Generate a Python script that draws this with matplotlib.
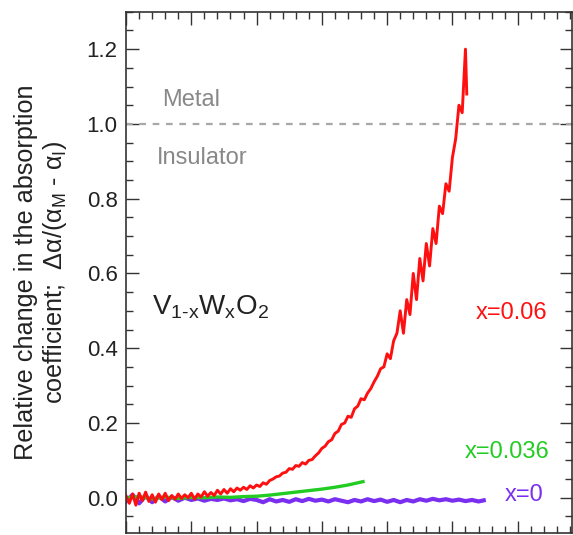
import matplotlib
matplotlib.use("Agg")
import matplotlib.pyplot as plt
from matplotlib.ticker import MultipleLocator, NullFormatter

plt.rcParams['font.family'] = ['Liberation Sans', 'DejaVu Sans']
plt.rcParams['mathtext.fontset'] = 'custom'
plt.rcParams['mathtext.rm'] = 'Liberation Sans'
plt.rcParams['mathtext.it'] = 'Liberation Sans'

# x = 0.06 (red), step 0.05 in arbitrary x units
red_x = [i * 0.05 for i in range(105)] + [5.22]
red_y = [0.005, -0.015, 0.01, -0.02, 0.012, -0.008, 0.015, -0.01, 0.008, -0.012,
         0.01, -0.005, 0.012, -0.008, 0.006, -0.004, 0.01, -0.002, 0.008, 0.0,
         0.012, -0.004, 0.01, 0.002, 0.016, 0.004, 0.014, 0.006, 0.02, 0.01,
         0.022, 0.012, 0.024, 0.016, 0.026, 0.02, 0.028, 0.022, 0.032, 0.026,
         0.034, 0.03, 0.04, 0.036, 0.046, 0.05, 0.056, 0.058, 0.066, 0.068,
         0.078, 0.076, 0.086, 0.084, 0.094, 0.09, 0.1, 0.102, 0.112, 0.12,
         0.132, 0.138, 0.15, 0.155, 0.172, 0.178, 0.196, 0.2, 0.218, 0.215,
         0.238, 0.245, 0.265, 0.262, 0.28, 0.292, 0.31, 0.325, 0.345, 0.35,
         0.385, 0.372, 0.42, 0.44, 0.5, 0.44, 0.53, 0.49, 0.6, 0.53,
         0.64, 0.58, 0.68, 0.62, 0.72, 0.68, 0.78, 0.76, 0.84, 0.82,
         0.91, 0.96, 1.05, 1.03, 1.2, 1.08]

# x = 0.036 (green)
green_x = [0.0, 0.2, 0.4, 0.6, 0.8, 1.0, 1.2, 1.4, 1.6, 1.8, 2.0, 2.2, 2.4,
           2.6, 2.8, 3.0, 3.2, 3.4, 3.63]
green_y = [0.0, 0.003, -0.003, 0.002, -0.002, 0.001, 0.0, 0.002, 0.001, 0.003,
           0.004, 0.007, 0.011, 0.015, 0.019, 0.023, 0.028, 0.034, 0.043]

# x = 0 (purple)
purple_x = [i * 0.1 for i in range(55)] + [5.48]
purple_y = [-0.01, 0.008, -0.015, 0.005, -0.012, 0.004, -0.01, 0.002, -0.008, 0.0,
            -0.006, -0.002, -0.008, -0.003, -0.006, -0.002, -0.007, -0.004, -0.009, -0.003,
            -0.006, -0.012, -0.004, -0.01, -0.006, -0.011, -0.004, -0.009, -0.003, -0.008,
            -0.005, -0.01, -0.004, -0.008, -0.012, -0.006, -0.01, -0.004, -0.009, -0.005,
            -0.011, -0.006, -0.012, -0.006, -0.01, -0.004, -0.008, -0.003, -0.007, -0.004,
            -0.008, -0.005, -0.009, -0.006, -0.01, -0.007]

red = '#ff1010'
green = '#22cc22'
purple = '#7a2ef0'

fig = plt.figure(figsize=(5.73, 5.35), dpi=100)
ax = fig.add_axes([0.220, 0.004, 0.778, 0.974])

ax.axhline(1.0, color='#a8a8a8', linestyle=(0, (3, 3)), linewidth=1.6)
ax.plot(purple_x, purple_y, color=purple, linewidth=3.0)
ax.plot(green_x, green_y, color=green, linewidth=2.4)
ax.plot(red_x, red_y, color=red, linewidth=2.1)

ax.set_xlim(0, 6.83)
ax.set_ylim(-0.094, 1.30)

ax.xaxis.set_major_locator(MultipleLocator(1))
ax.xaxis.set_minor_locator(MultipleLocator(0.2))
ax.xaxis.set_major_formatter(NullFormatter())
ax.yaxis.set_major_locator(MultipleLocator(0.2))
ax.yaxis.set_minor_locator(MultipleLocator(0.05))
ax.tick_params(which='both', direction='in', top=True, right=True,
               color='#333333', width=1.0)
ax.tick_params(which='major', length=9, labelsize=16, labelcolor='#222222', pad=6)
ax.tick_params(which='minor', length=5)
for s in ax.spines.values():
    s.set_color('#333333')
    s.set_linewidth(1.2)

ax.set_ylabel('Relative change in the absorption\ncoefficient;  $\\Delta\\alpha/(\\alpha_M$ - $\\alpha_I)$',
              fontsize=18.2, color='#222222', linespacing=1.12, labelpad=13)

ax.text(0.55, 1.065, 'Metal', color='#888888', fontsize=17, va='center')
ax.text(0.47, 0.91, 'Insulator', color='#888888', fontsize=17, va='center')
ax.text(0.40, 0.51, 'V$_{1\\text{-}x}$W$_x$O$_2$', color='#222222', fontsize=20, va='center')
ax.text(6.45, 0.495, 'x=0.06', color=red, fontsize=17, ha='right', va='center')
ax.text(6.49, 0.123, 'x=0.036', color=green, fontsize=17, ha='right', va='center')
ax.text(6.39, 0.008, 'x=0', color=purple, fontsize=17, ha='right', va='center')

fig.savefig('out.png', dpi=100)
